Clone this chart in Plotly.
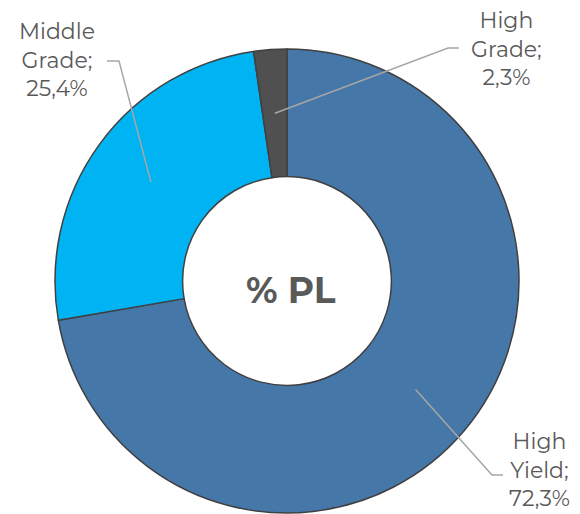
import numpy as np
import plotly.graph_objects as go

# ── Data ──────────────────────────────────────────────────────
labels = ["High Yield", "Middle Grade", "High Grade"]
values = [72.3, 25.4, 2.3]
colors = ["#4677a9", "#00b4f4", "#505050"]

# label text anchor (px) and leader-line elbow points (px)
label_pos = [(539, 470), (57, 60), (506, 49)]
elbows = [[(492, 475), (503, 475)], [(119, 61), (107, 61)], [(448, 48), (459, 48)]]

OFF = 8  # page body margin
W, H = 580 - OFF, 514 - OFF
CX, CY, R_OUT, HOLE = 287, 281, 232, 0.45
TXT = "#595959"
FONT = "Montserrat, Open Sans, sans-serif"


def px(x, y):
    return (x - OFF) / W, 1 - (y - OFF) / H


x0, y1 = px(CX - R_OUT, CY - R_OUT)
x1, y0 = px(CX + R_OUT, CY + R_OUT)

fig = go.Figure(go.Pie(
    labels=labels,
    values=values,
    marker=dict(colors=colors, line=dict(color="#404040", width=1.5)),
    hole=HOLE,
    sort=False,
    direction="clockwise",
    rotation=0,
    textinfo="none",
    hoverinfo="label+percent",
    domain=dict(x=[x0, x1], y=[max(y0, 0), y1]),
))

# leader lines from slice mid-angle (mid-ring radius) to label
total = sum(values)
cum = np.cumsum([0] + values[:-1])
r_mid = R_OUT * (1 + HOLE) / 2
for i, (lab, v) in enumerate(zip(labels, values)):
    ang = np.radians((cum[i] + v / 2) / total * 360)
    sx, sy = CX + r_mid * np.sin(ang), CY - r_mid * np.cos(ang)
    pts = [(sx, sy)] + elbows[i]
    path = "M " + " L ".join(f"{px(a, b)[0]} {px(a, b)[1]}" for a, b in pts)
    fig.add_shape(type="path", path=path, xref="paper", yref="paper",
                  line=dict(color="#a6a6a6", width=1.5))
    words = lab.split(" ")
    txt = f"{words[0]}<br>{words[1]};<br>{str(v).replace('.', ',')}%"
    ax, ay = px(*label_pos[i])
    fig.add_annotation(x=ax, y=ay, xref="paper", yref="paper", text=txt,
                       showarrow=False, align="center",
                       xanchor="center", yanchor="middle",
                       font=dict(size=22, color=TXT, family=FONT))

cx_t, cy_t = px(291, 290)
fig.add_annotation(x=cx_t, y=cy_t, xref="paper", yref="paper",
                   text="<b>% PL</b>", showarrow=False,
                   xanchor="center", yanchor="middle",
                   font=dict(size=36, color=TXT, family=FONT))

fig.update_layout(
    width=W, height=H,
    margin=dict(l=0, r=0, t=0, b=0),
    showlegend=False,
    paper_bgcolor="white",
)

fig.write_html("out.html")
